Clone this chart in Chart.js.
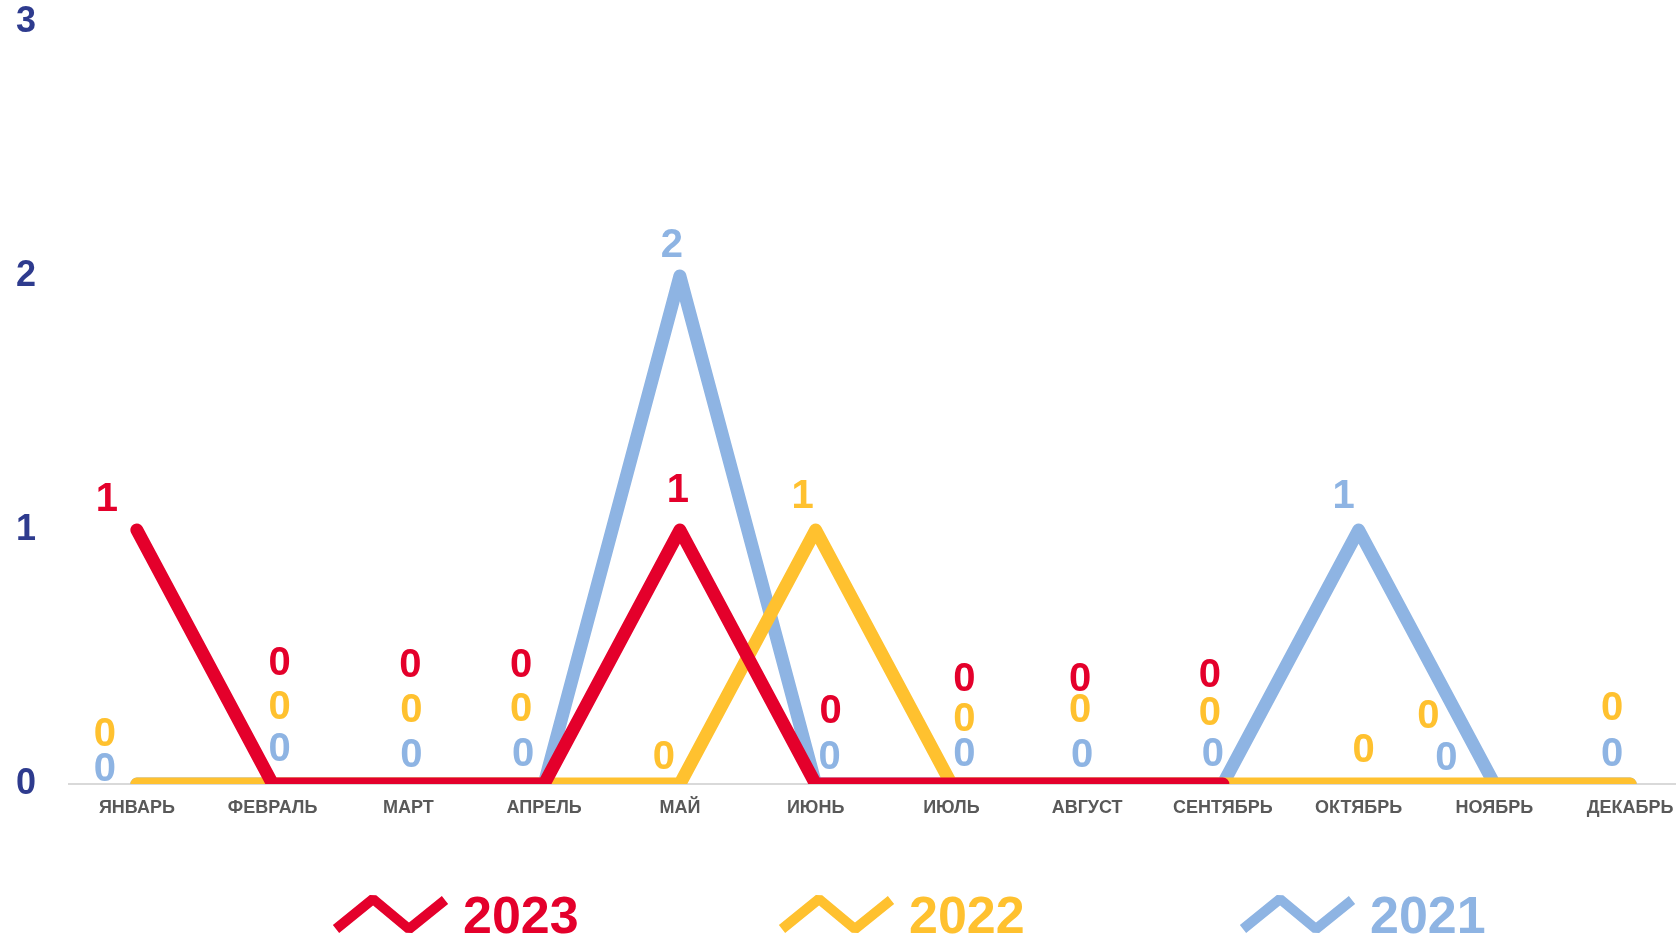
<!DOCTYPE html>
<html lang="ru">
<head>
<meta charset="utf-8">
<title>По месяцам 2021–2023</title>
<script src="https://cdn.jsdelivr.net/npm/chart.js@4.4.1/dist/chart.umd.min.js"></script>
<style>
    html, body { margin: 0; padding: 0; background: #fff; overflow: hidden; }
    #wrap { width: 1676px; height: 939px; overflow: hidden; position: relative; }
    #chart { display: block; }
</style>
</head>
<body>
<div id="wrap"><canvas id="chart" width="1698" height="939"></canvas></div>
<script>
// Data
var months = ['ЯНВАРЬ', 'ФЕВРАЛЬ', 'МАРТ', 'АПРЕЛЬ', 'МАЙ', 'ИЮНЬ', 'ИЮЛЬ', 'АВГУСТ', 'СЕНТЯБРЬ', 'ОКТЯБРЬ', 'НОЯБРЬ', 'ДЕКАБРЬ'];
var years = ['2023', '2022', '2021'];
var values2023 = [1, 0, 0, 0, 1, 0, 0, 0, 0, null, null, null];
var values2022 = [0, 0, 0, 0, 0, 1, 0, 0, 0, 0, 0, 0];
var values2021 = [0, 0, 0, 0, 2, 0, 0, 0, 0, 1, 0, 0];
var yTicks = [0, 1, 2, 3];

// Colours
var RED = '#E4002B';
var YELLOW = '#FFC12F';
var BLUE = '#8EB4E3';
var AXIS_TEXT = '#2E3B8E';
var MONTH_TEXT = '#595959';
var FONT = '"Liberation Sans", Arial, sans-serif';

// Hand-placed value labels, pixel offsets from each point [dx, dy]
var labelOffsets2023 = [[-30, -33], [7, -123], [2, -121], [-23, -121], [-2, -42], [15, -75], [13, -107], [-7, -107], [-13, -111], null, null, null];
var labelOffsets2022 = [[-32, -52], [7, -79], [3, -76], [-23, -77], [-16, -29], [-13, -36], [13, -67], [-7, -76], [-13, -73], [5, -36], [-66, -70], [-18, -78]];
var labelOffsets2021 = [[-32, -17], [7, -37], [3, -31], [-21, -32], [-8, -33], [14, -29], [13, -32], [-5, -31], [-10, -32], [-15, -36], [-48, -28], [-18, -32]];
var labelOffsets = [labelOffsets2023, labelOffsets2022, labelOffsets2021];

// Legend item left edges
var legendX = [333, 779, 1240];
var legendY = 914;

// Draw value labels over the lines (red last so it sits on top)
var valueLabels = {
    id: 'valueLabels',
    afterDatasetsDraw: function(chart) {
        var ctx = chart.ctx;
        var size = 40;
        ctx.save();
        ctx.font = 'bold ' + size + 'px ' + FONT;
        ctx.textAlign = 'center';
        ctx.textBaseline = 'alphabetic';
        for (var d = chart.data.datasets.length - 1; d >= 0; d--) {
            var ds = chart.data.datasets[d];
            var meta = chart.getDatasetMeta(d);
            ctx.fillStyle = ds.borderColor;
            for (var i = 0; i < ds.data.length; i++) {
                if (ds.data[i] == null || !labelOffsets[d][i]) continue;
                var pt = meta.data[i];
                ctx.fillText(String(ds.data[i]), pt.x + labelOffsets[d][i][0], pt.y + labelOffsets[d][i][1] + size * 0.358);
            }
        }
        ctx.restore();
    }
};

// Zigzag legend under the axis
var zigzagLegend = {
    id: 'zigzagLegend',
    afterDraw: function(chart) {
        var ctx = chart.ctx;
        ctx.save();
        for (var d = 0; d < chart.data.datasets.length; d++) {
            var ds = chart.data.datasets[d];
            var x0 = legendX[d];
            ctx.strokeStyle = ds.borderColor;
            ctx.lineWidth = 10;
            ctx.lineCap = 'butt';
            ctx.lineJoin = 'bevel';
            ctx.beginPath();
            ctx.moveTo(x0 + 3, legendY + 15);
            ctx.lineTo(x0 + 40, legendY - 15);
            ctx.lineTo(x0 + 76, legendY + 15);
            ctx.lineTo(x0 + 112, legendY - 14);
            ctx.stroke();
            ctx.fillStyle = ds.borderColor;
            ctx.font = 'bold 52px ' + FONT;
            ctx.textAlign = 'left';
            ctx.textBaseline = 'alphabetic';
            ctx.fillText(ds.label, x0 + 130, legendY + 19);
        }
        ctx.restore();
    }
};

function lineDataset(label, data, color) {
    return {
        label: label,
        data: data,
        borderColor: color,
        backgroundColor: color,
        borderWidth: 13,
        borderCapStyle: 'round',
        borderJoinStyle: 'round',
        pointRadius: 0,
        pointHoverRadius: 0,
        tension: 0,
        fill: false,
        spanGaps: false
    };
}

new Chart(document.getElementById('chart'), {
    type: 'line',
    data: {
        labels: months,
        datasets: [
            lineDataset(years[0], values2023, RED),
            lineDataset(years[1], values2022, YELLOW),
            lineDataset(years[2], values2021, BLUE)
        ]
    },
    options: {
        responsive: false,
        animation: false,
        layout: { padding: { top: 22, right: 0, bottom: 95, left: 0 } },
        plugins: {
            legend: { display: false },
            tooltip: { enabled: false }
        },
        scales: {
            x: {
                type: 'category',
                offset: true,
                grid: { display: false, drawTicks: false },
                border: { display: true, color: '#D9D9D9', width: 2 },
                ticks: {
                    color: MONTH_TEXT,
                    font: { family: FONT, size: 18, weight: 'bold' },
                    padding: 13,
                    maxRotation: 0,
                    autoSkip: false
                },
                afterFit: function(scale) { scale.height = 60; }
            },
            y: {
                min: 0,
                max: 3,
                grid: { display: false, drawTicks: false },
                border: { display: false },
                ticks: {
                    color: AXIS_TEXT,
                    font: { family: FONT, size: 36, weight: 'bold' },
                    padding: 33
                },
                afterBuildTicks: function(scale) {
                    scale.ticks = yTicks.map(function(v) { return { value: v }; });
                },
                afterFit: function(scale) {
                    scale.width = 69;
                    scale.paddingTop = 0;
                    scale.paddingBottom = 0;
                }
            }
        }
    },
    plugins: [valueLabels, zigzagLegend]
});
</script>
</body>
</html>
